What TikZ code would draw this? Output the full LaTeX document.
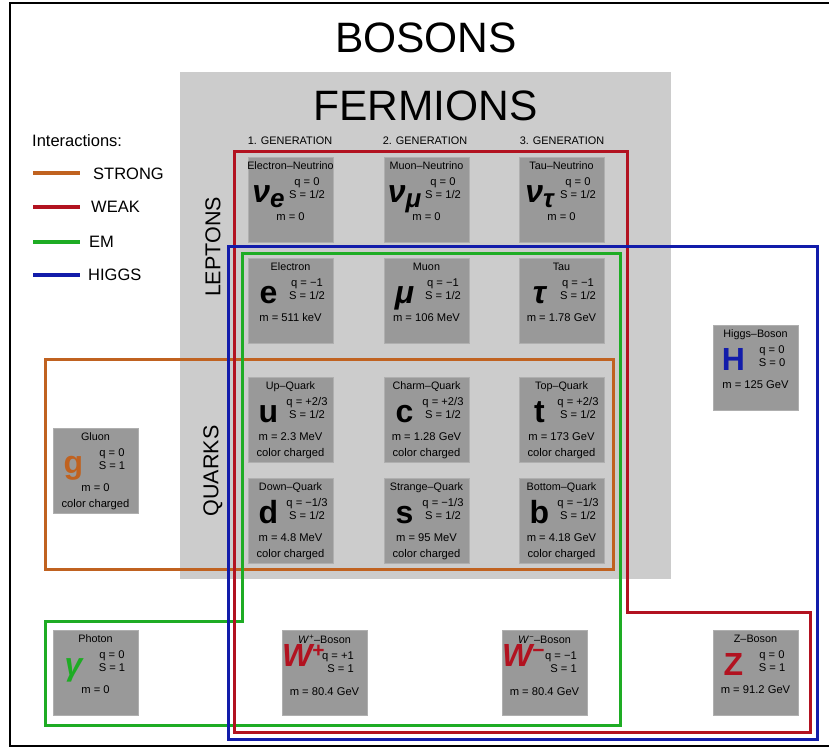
\documentclass[tikz,border=0pt]{standalone}
\usepackage{fontspec}
\setmainfont{Liberation Sans}
\definecolor{cstrong}{RGB}{192,98,32}
\definecolor{cweak}{RGB}{178,18,32}
\definecolor{cem}{RGB}{30,172,36}
\definecolor{chiggs}{RGB}{18,28,170}
\definecolor{cardfill}{RGB}{153,153,153}
\definecolor{cardedge}{RGB}{175,175,175}
\definecolor{fermbg}{RGB}{204,204,204}
\tikzset{
  card/.style={draw=cardedge, fill=cardfill, line width=0.8pt, minimum width=85pt, minimum height=85pt, inner sep=0pt, outer sep=0pt},
  ttl/.style={font=\fontsize{10.8}{12}\selectfont, anchor=base, inner sep=0pt},
  dat/.style={font=\fontsize{11.2}{13.5}\selectfont, anchor=base, inner sep=0pt},
  sym/.style={font=\fontsize{32}{32}\selectfont\bfseries, anchor=base, inner sep=0pt},
  bigttl/.style={font=\fontsize{42.5}{44}\selectfont, anchor=base, inner sep=0pt},
  gen/.style={font=\fontsize{10.9}{12}\selectfont, anchor=base, inner sep=0pt},
  side/.style={font=\fontsize{21.5}{24}\selectfont, rotate=90, inner sep=0pt},
  leg/.style={font=\fontsize{16.5}{18}\selectfont, anchor=west, inner sep=0pt},
  outline/.style={line width=3pt},
  legline/.style={line width=3.2pt},
}
\newcommand{\qsc}[2]{\begin{tabular}[t]{@{}c@{}}#1\\#2\end{tabular}}
\newcommand{\qsr}[2]{\begin{tabular}[t]{@{}r@{}}#1\\#2\end{tabular}}
\newcommand{\pcard}[9]{%
  \node[card] (#1) at ({#2+42.5},{#3+42.5}) {};
  \node[ttl] (#1-t) at ({#2+42.5},{#3+12.5}) {#4};
  \node[sym] (#1-s) at ({#2+20.5},{#3+45}) {#5};
  \node[dat] (#1-q) at ({#2+59},{#3+28}) {\qsc{#6}{#7}};
  \node[dat] (#1-m) at ({#2+42.5},{#3+63}) {#8};
  \node[dat] (#1-c) at ({#2+42.5},{#3+79}) {#9};
}
\begin{document}
\begin{tikzpicture}[x=1pt,y=-1pt]
\useasboundingbox (0,0) rectangle (829,749);
\fill[white] (0,0) rectangle (829,749);
% outer frame
\draw[black, line width=1.8pt] (10,3) rectangle (840,746);
\node[bigttl] (bosons) at (426,53) {BOSONS};
% fermion area
\fill[fermbg] (180,72) rectangle (671,579);
\node[bigttl] (fermions) at (425.5,121) {FERMIONS};
\node[gen] (g1) at (290,144) {1. GENERATION};
\node[gen] (g2) at (425,144) {2. GENERATION};
\node[gen] (g3) at (562,144) {3. GENERATION};
\node[side] (leptons) at (213,247) {LEPTONS};
\node[side] (quarks) at (213,471) {QUARKS};
% legend
\node[leg] (inter) at (32,141) {Interactions:};
\draw[legline, cstrong] (33,173) -- (80,173);
\node[leg] (lstrong) at (93,173.5) {STRONG};
\draw[legline, cweak] (33,207) -- (80,207);
\node[leg] (lweak) at (91,207) {WEAK};
\draw[legline, cem] (33,242) -- (80,242);
\node[leg] (lem) at (89,241.5) {EM};
\draw[legline, chiggs] (33,275) -- (80,275);
\node[leg] (lhiggs) at (88,275) {HIGGS};
% interaction outlines
\draw[outline, cstrong] (45,359) rectangle (613,569);
\draw[outline, cem] (242,253) -- (620,253) -- (620,725) -- (45,725) -- (45,621) -- (242,621) -- cycle;
\draw[outline, cweak] (234,151) -- (627,151) -- (627,612) -- (810,612) -- (810,732) -- (234,732) -- cycle;
\draw[outline, chiggs] (228,246) rectangle (817,739);
% leptons
\pcard{nue}{248}{157}{Electron–Neutrino}{\itshape ν\raisebox{-5pt}{\fontsize{26}{26}\selectfont e}}{q = 0}{S = 1/2}{m = 0}{}
\pcard{numu}{384}{157}{Muon–Neutrino}{\itshape ν\raisebox{-5pt}{\fontsize{26}{26}\selectfont μ}}{q = 0}{S = 1/2}{m = 0}{}
\pcard{nutau}{519}{157}{Tau–Neutrino}{\itshape ν\raisebox{-5pt}{\fontsize{26}{26}\selectfont τ}}{q = 0}{S = 1/2}{m = 0}{}
\pcard{el}{248}{258}{Electron}{e}{q = −1}{S = 1/2}{m = 511 keV}{}
\pcard{mu}{384}{258}{Muon}{\itshape μ}{q = −1}{S = 1/2}{m = 106 MeV}{}
\pcard{tau}{519}{258}{Tau}{\itshape τ}{q = −1}{S = 1/2}{m = 1.78 GeV}{}
% quarks
\pcard{up}{248}{377}{Up–Quark}{u}{q = +2/3}{S = 1/2}{m = 2.3 MeV}{color charged}
\pcard{ch}{384}{377}{Charm–Quark}{c}{q = +2/3}{S = 1/2}{m = 1.28 GeV}{color charged}
\pcard{top}{519}{377}{Top–Quark}{t}{q = +2/3}{S = 1/2}{m = 173 GeV}{color charged}
\pcard{dn}{248}{478}{Down–Quark}{d}{q = −1/3}{S = 1/2}{m = 4.8 MeV}{color charged}
\pcard{st}{384}{478}{Strange–Quark}{s}{q = −1/3}{S = 1/2}{m = 95 MeV}{color charged}
\pcard{bot}{519}{478}{Bottom–Quark}{b}{q = −1/3}{S = 1/2}{m = 4.18 GeV}{color charged}
% bosons
\pcard{glu}{53}{428}{Gluon}{\color{cstrong}g}{q = 0}{S = 1}{m = 0}{color charged}
\pcard{hig}{713}{325}{Higgs–Boson}{\color{chiggs}H}{q = 0}{S = 0}{m = 125 GeV}{}
\pcard{pho}{53}{630}{Photon}{\color{cem}\itshape γ}{q = 0}{S = 1}{m = 0}{}
\pcard{zb}{713}{630}{Z–Boson}{\color{cweak}Z}{q = 0}{S = 1}{m = 91.2 GeV}{}
% W+
\node[card] (wp) at (324.5,672.5) {};
\node[ttl] (wp-t) at (324.5,643) {\textit{W}\textsuperscript{+}–Boson};
\node[sym, anchor=base west, text=cweak] (wp-s) at (282,666) {\itshape W\raisebox{9pt}{\fontsize{21}{21}\selectfont\upshape +}};
\node[dat, anchor=base east] (wp-q) at (354,659) {\qsr{q = +1}{S = 1}};
\node[dat] (wp-m) at (324.5,695) {m = 80.4 GeV};
% W-
\node[card] (wm) at (544.5,672.5) {};
\node[ttl] (wm-t) at (544.5,643) {\textit{W}\textsuperscript{−}–Boson};
\node[sym, anchor=base west, text=cweak] (wm-s) at (502,666) {\itshape W\raisebox{9pt}{\fontsize{21}{21}\selectfont\upshape −}};
\node[dat, anchor=base east] (wm-q) at (577,659) {\qsr{q = −1}{S = 1}};
\node[dat] (wm-m) at (544.5,695) {m = 80.4 GeV};
\end{tikzpicture}
\end{document}
